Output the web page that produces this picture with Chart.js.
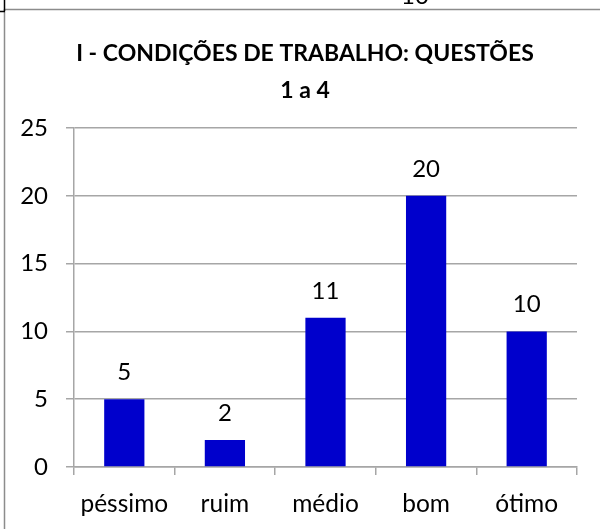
<!DOCTYPE html>
<html>
<head>
<meta charset="utf-8">
<script src="https://cdn.jsdelivr.net/npm/chart.js@4"></script>
<style>
  html, body { margin: 0; padding: 0; background: #fff; }
  #wrap { width: 600px; height: 529px; position: relative; }
</style>
</head>
<body>
<div id="wrap"><canvas id="c" width="600" height="529"></canvas></div>
<script>
const categories = ["péssimo", "ruim", "médio", "bom", "ótimo"];
const values = [5, 2, 11, 20, 10];
const titleLines = ["I - CONDIÇÕES DE TRABALHO: QUESTÕES", "1 a 4"];
const yTicks = [0, 5, 10, 15, 20, 25];
const cutOffText = "10";

const FONT = "Lato, 'Open Sans', sans-serif";
const GRID = "#a6a6a6";

const framePlugin = {
  id: "frame",
  afterDraw(chart) {
    const ctx = chart.ctx;
    ctx.save();
    ctx.strokeStyle = "#8c8c8c";
    ctx.lineWidth = 1.5;
    ctx.beginPath();
    ctx.moveTo(4, 9.5); ctx.lineTo(600, 9.5);
    ctx.moveTo(4.5, 9); ctx.lineTo(4.5, 529);
    ctx.stroke();
    ctx.strokeStyle = "#000";
    ctx.beginPath();
    ctx.moveTo(4.5, 0); ctx.lineTo(4.5, 11);
    ctx.moveTo(0, 11.5); ctx.lineTo(5, 11.5);
    ctx.stroke();
    ctx.fillStyle = "#000";
    ctx.font = "24px " + FONT;
    ctx.textAlign = "center";
    ctx.textBaseline = "alphabetic";
    ctx.fillText(cutOffText, 415, 3.5);
    ctx.restore();
  }
};

const valueLabels = {
  id: "valueLabels",
  afterDatasetsDraw(chart) {
    const ctx = chart.ctx;
    const meta = chart.getDatasetMeta(0);
    ctx.save();
    ctx.fillStyle = "#000";
    ctx.font = "24px " + FONT;
    ctx.textAlign = "center";
    ctx.textBaseline = "alphabetic";
    meta.data.forEach((bar, i) => {
      ctx.fillText(String(chart.data.datasets[0].data[i]), bar.x, bar.y - 19);
    });
    ctx.restore();
  }
};

new Chart(document.getElementById("c"), {
  type: "bar",
  data: {
    labels: categories,
    datasets: [{
      data: values,
      backgroundColor: "#0000cc",
      borderWidth: 0,
      barPercentage: 0.4,
      categoryPercentage: 1.0,
      yAxisID: "y"
    }]
  },
  options: {
    responsive: false,
    animation: false,
    devicePixelRatio: 1,
    layout: { padding: { left: 10, right: 0, top: 0, bottom: 0 } },
    plugins: {
      legend: { display: false },
      tooltip: { enabled: false },
      title: {
        display: true,
        text: titleLines,
        color: "#000",
        font: { family: FONT, size: 23, weight: "bold", lineHeight: 1.6 },
        padding: { top: 35, bottom: 19.4 }
      }
    },
    scales: {
      x: {
        grid: {
          display: true,
          drawOnChartArea: false,
          drawTicks: true,
          tickLength: 8,
          color: GRID,
          lineWidth: 1.5
        },
        border: { display: true, color: GRID, width: 1.5 },
        ticks: {
          color: "#000",
          font: { family: FONT, size: 24.5 },
          padding: 14,
          maxRotation: 0
        },
        afterFit(scale) { scale.height = 62; }
      },
      y: {
        position: "left",
        min: 0,
        max: 25,
        afterBuildTicks(scale) { scale.ticks = yTicks.map(v => ({ value: v })); },
        grid: {
          color: GRID,
          lineWidth: 1.5,
          tickLength: 8,
          drawTicks: true
        },
        border: { display: true, color: GRID, width: 1.5 },
        ticks: {
          color: "#000",
          font: { family: FONT, size: 24 },
          padding: 18
        },
        afterFit(scale) { scale.width = 64; }
      },
      yRight: {
        position: "right",
        display: true,
        min: 0,
        max: 25,
        grid: { display: false, drawTicks: false },
        border: { display: false },
        ticks: { display: false },
        afterFit(scale) { scale.width = 23; }
      }
    }
  },
  plugins: [framePlugin, valueLabels]
});
</script>
</body>
</html>
